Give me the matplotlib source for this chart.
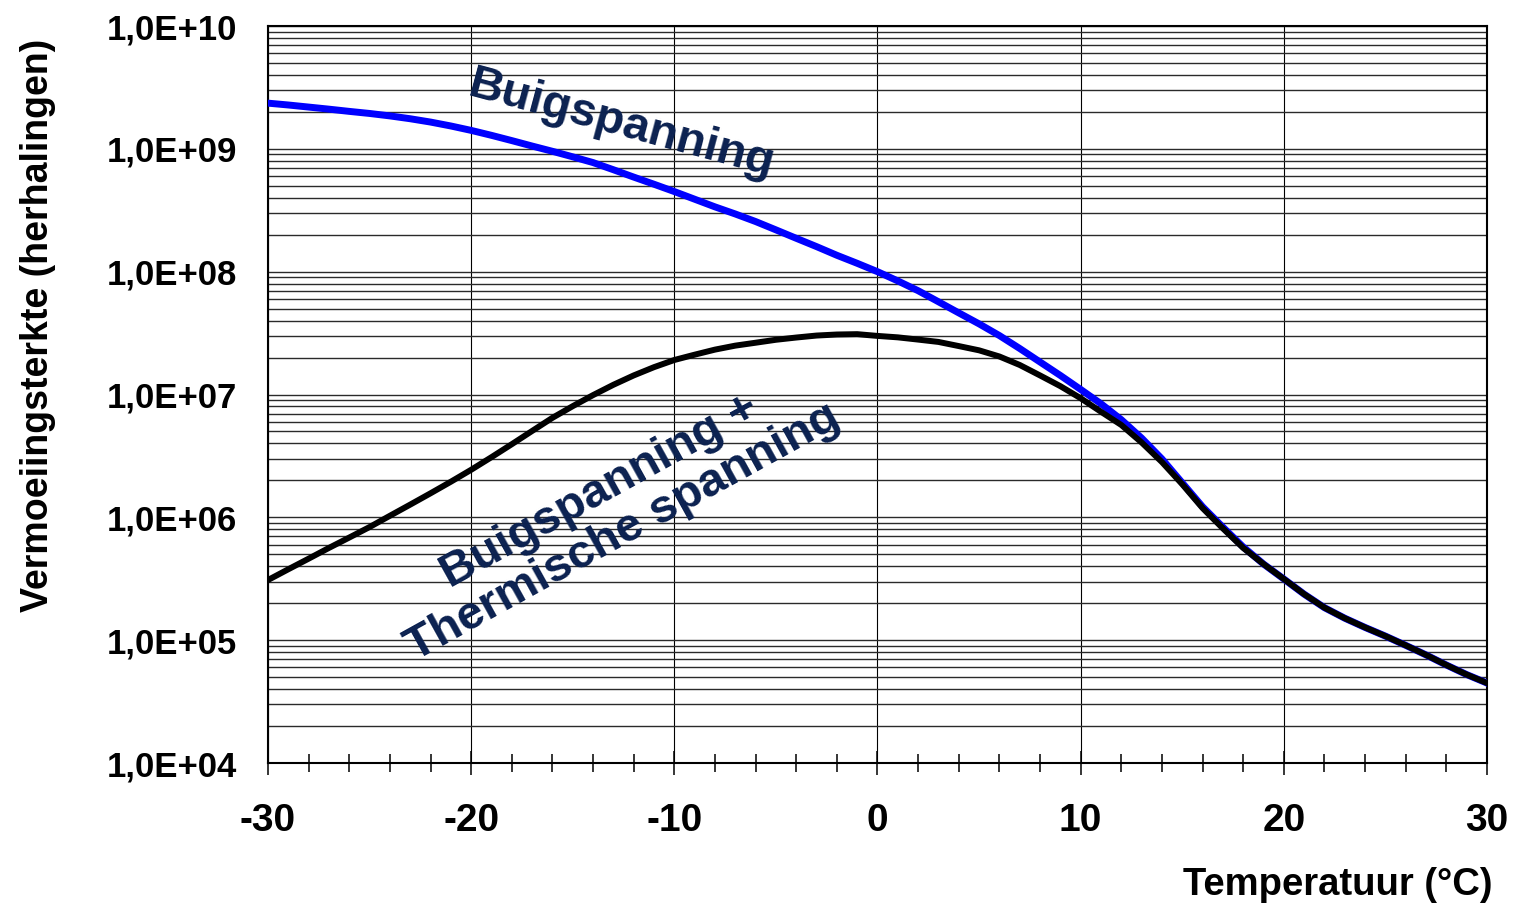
import numpy as np
import matplotlib
matplotlib.use("Agg")
import matplotlib.pyplot as plt
from matplotlib.ticker import MultipleLocator, LogLocator, FuncFormatter, NullFormatter

plt.rcParams['font.family'] = ['Liberation Sans', 'DejaVu Sans']
plt.rcParams['font.weight'] = 'bold'
plt.rcParams['axes.unicode_minus'] = False

# temperature (degC)
temperature = list(range(-30, 31))

# fatigue strength (repetitions), bending stress only
buigspanning = [2.355e9, 2.275e9, 2.188e9, 2.104e9, 2.018e9, 1.941e9, 1.854e9, 1.758e9,
                1.652e9, 1.535e9, 1.413e9, 1.288e9, 1.167e9, 1.054e9, 9.55e8, 8.61e8,
                7.73e8, 6.76e8, 5.89e8, 5.15e8, 4.49e8, 3.89e8, 3.37e8, 2.95e8, 2.56e8,
                2.19e8, 1.87e8, 1.60e8, 1.36e8, 1.17e8,
                1.0e8, 8.41e7, 7.0e7, 5.69e7, 4.62e7, 3.76e7, 3.02e7, 2.37e7, 1.84e7,
                1.43e7, 1.10e7, 8.41e6, 6.24e6, 4.42e6, 2.99e6, 1.91e6, 1.22e6, 8.32e5,
                5.74e5, 4.17e5, 3.15e5, 2.37e5, 1.84e5, 1.51e5, 1.27e5, 1.08e5, 9.08e4,
                7.59e4, 6.28e4, 5.25e4, 4.48e4]

# fatigue strength (repetitions), bending + thermal stress
buig_thermisch = [3.09e5, 3.78e5, 4.61e5, 5.64e5, 6.85e5, 8.34e5, 1.03e6, 1.27e6,
                  1.57e6, 1.95e6, 2.44e6, 3.09e6, 3.94e6, 5.05e6, 6.46e6, 8.04e6,
                  9.89e6, 1.20e7, 1.43e7, 1.67e7, 1.91e7, 2.11e7, 2.32e7, 2.50e7, 2.64e7,
                  2.79e7, 2.91e7, 3.02e7, 3.08e7, 3.10e7,
                  3.0e7, 2.92e7, 2.80e7, 2.68e7, 2.48e7, 2.29e7, 2.04e7, 1.74e7, 1.43e7,
                  1.17e7, 9.33e6, 7.24e6, 5.65e6, 4.07e6, 2.82e6, 1.86e6, 1.19e6, 8.13e5,
                  5.64e5, 4.17e5, 3.15e5, 2.37e5, 1.84e5, 1.51e5, 1.27e5, 1.08e5, 9.08e4,
                  7.59e4, 6.28e4, 5.25e4, 4.48e4]

NAVY = '#0b2150'

fig = plt.figure(figsize=(15.15, 9.06), dpi=100)
ax = fig.add_axes([0.1769, 0.1578, 0.8046, 0.8135])

ax.plot(temperature, buigspanning, color='#0000ff', lw=5.0, solid_joinstyle='round', zorder=3)
ax.plot(temperature, buig_thermisch, color='black', lw=4.3, solid_joinstyle='round', zorder=4)

ax.set_yscale('log')
ax.set_xlim(-30, 30)
ax.set_ylim(1e4, 1e10)

ax.xaxis.set_major_locator(MultipleLocator(10))
ax.xaxis.set_minor_locator(MultipleLocator(2))
ax.yaxis.set_major_locator(LogLocator(base=10, numticks=20))
ax.yaxis.set_minor_locator(LogLocator(base=10, subs=np.arange(2, 10), numticks=20))
ax.yaxis.set_minor_formatter(NullFormatter())
ax.yaxis.set_major_formatter(FuncFormatter(lambda v, p: "1,0E+%02d" % int(round(np.log10(v)))))

ax.grid(True, which='major', axis='x', color='black', lw=0.8)
ax.grid(True, which='both', axis='y', color='#2a2a2a', lw=1.0)

ax.tick_params(axis='x', which='major', direction='inout', length=17, width=1.1,
               pad=20, labelsize=28)
ax.tick_params(axis='x', which='minor', direction='inout', length=13, width=1.1)
ax.tick_params(axis='y', which='both', length=0, pad=22, labelsize=25)
for lbl in ax.get_xticklabels() + ax.get_yticklabels():
    lbl.set_fontweight('bold')

for s in ax.spines.values():
    s.set_linewidth(1.5)

ax.text(-20.1, 3.4e9, "Buigspanning", color=NAVY, fontsize=34, fontweight='bold',
        rotation=-15, ha='left', va='center', rotation_mode='anchor')
ax.text(-13.1, 1.1e6, "Buigspanning +\nThermische spanning", color=NAVY, fontsize=34,
        fontweight='bold', rotation=29, ha='center', va='center', multialignment='center',
        rotation_mode='anchor', linespacing=1.08)

fig.text(0.025, 0.641, "Vermoeiingsterkte (herhalingen)", rotation=90, fontsize=27,
         fontweight='bold', ha='center', va='center')
fig.text(0.985, 0.023, "Temperatuur (°C)", fontsize=27.5, fontweight='bold',
         ha='right', va='center')

fig.savefig("out.png", dpi=100)
